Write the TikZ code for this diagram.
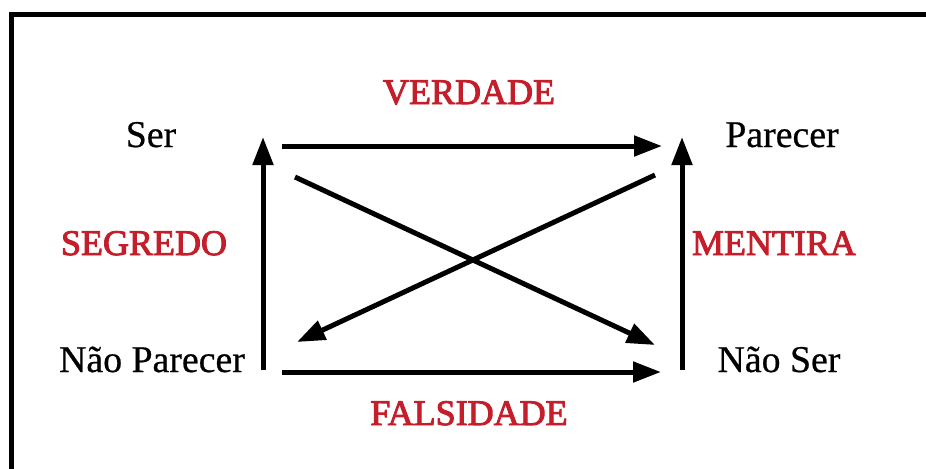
\documentclass[tikz,border=0pt]{standalone}
\usepackage{fontspec}
\setmainfont{Liberation Serif}
\newfontfamily\semib[FakeBold=2.6]{Liberation Serif}
\newfontfamily\termfont[FakeBold=0.6]{Liberation Serif}
\usepackage{xcolor}
\usepackage{tikz}
\usetikzlibrary{arrows.meta}
\definecolor{redc}{HTML}{C41E2A}
\tikzset{
  ar/.style={-{Triangle[length=14pt,width=10pt]},line width=2.5pt,black},
  term/.style={font=\termfont\fontsize{18.9}{22}\selectfont,inner sep=0pt,anchor=base},
  rel/.style={font=\semib\fontsize{18}{21}\selectfont,text=redc,inner sep=0pt,anchor=base}
}

\begin{document}
\begin{tikzpicture}[x=0.5pt,y=-0.5pt]
\useasboundingbox (0,0) rectangle (926,468);
\clip (0,0) rectangle (926,468);
\draw[line width=2.5pt] (11.5,480) |- (940,14.5);
% termos
\node[term] (ser) at (151,147) {Ser};
\node[term] (parecer) at (782,147) {Parecer};
\node[term] (naoparecer) at (152,372) {Não Parecer};
\node[term] (naoser) at (779,372) {Não Ser};
% relacoes
\node[rel] (verdade) at (469,104) {VERDADE};
\node[rel] (falsidade) at (469,425) {FALSIDADE};
\node[rel] (segredo) at (144,255) {SEGREDO};
\node[rel] (mentira) at (774,255) {MENTIRA};
% extremos das setas
\coordinate (ltop) at (263,137); \coordinate (lbot) at (263,370);
\coordinate (rtop) at (682,137); \coordinate (rbot) at (682,370);
\coordinate (tstart) at (282,146); \coordinate (tend) at (662,146);
\coordinate (bstart) at (282,372); \coordinate (bend) at (661,372);
\coordinate (d1s) at (295,177); \coordinate (d1e) at (655,345);
\coordinate (d2s) at (655,175); \coordinate (d2e) at (297,342);
\draw[ar] (lbot) -- (ltop);
\draw[ar] (rbot) -- (rtop);
\draw[ar] (tstart) -- (tend);
\draw[ar] (bstart) -- (bend);
\draw[ar] (d1s) -- (d1e);
\draw[ar] (d2s) -- (d2e);
\end{tikzpicture}
\end{document}
